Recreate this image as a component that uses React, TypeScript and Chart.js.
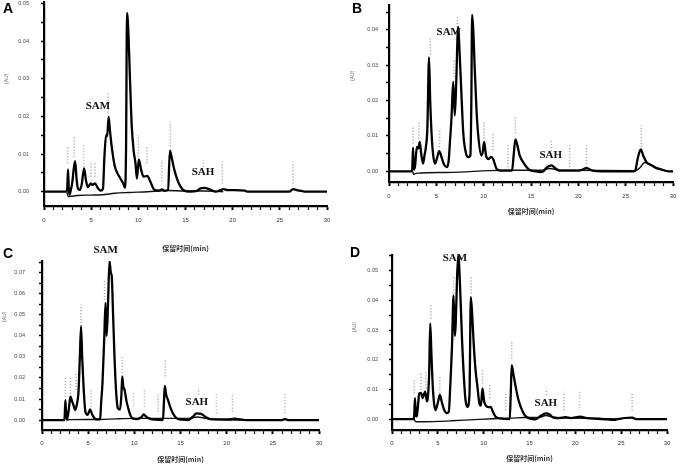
import React, { useEffect, useRef } from 'react';
import { Chart, registerables } from 'chart.js';
Chart.register(...registerables);

type Pt = [number, number];

// ---------- shared axis data ----------
const xTickValues = [0, 1, 2, 3, 4, 5, 6, 7, 8, 9, 10, 11, 12, 13, 14, 15, 16, 17, 18, 19, 20, 21, 22, 23, 24, 25, 26, 27, 28, 29, 30];
const xLabelStep = 5;
const xAxisTitle = '保留时间(min)';
const yAxisTitle = '(AU)';
const peakNames = ['SAM', 'SAH'];

// ---------- Panel A ----------
const aYTicks = [0, 0.005, 0.01, 0.015, 0.02, 0.025, 0.03, 0.035, 0.04, 0.045, 0.05];
const aMain: Pt[] = [[0, 0], [2.3, 0], [2.45, 0.0005], [2.55, 0.0059], [2.62, 0.001], [2.7, -0.0008], [2.85, 0.0005], [3.0, 0.0025], [3.15, 0.006], [3.3, 0.0081], [3.45, 0.0035], [3.6, 0.0008], [3.8, 0.0005], [4.0, 0.002], [4.25, 0.0062], [4.45, 0.003], [4.65, 0.0012], [4.95, 0.0022], [5.15, 0.0018], [5.4, 0.0022], [5.7, 0.001], [6.0, 0.0003], [6.25, 0.0008], [6.4, 0.009], [6.58, 0.015], [6.7, 0.0148], [6.85, 0.0199], [7.0, 0.016], [7.2, 0.0115], [7.5, 0.0068], [7.8, 0.0048], [8.1, 0.0035], [8.4, 0.0022], [8.6, 0.001], [8.7, 0.012], [8.8, 0.0475], [8.95, 0.042], [9.1, 0.031], [9.3, 0.0175], [9.5, 0.011], [9.7, 0.0075], [9.85, 0.0035], [10.05, 0.0086], [10.3, 0.0058], [10.55, 0.004], [10.95, 0.0042], [11.3, 0.0025], [11.7, 0.0005], [12.2, 0.0003], [12.5, 0.0006], [12.8, 0.0002], [13.15, 0.0005], [13.35, 0.0109], [13.5, 0.0095], [13.75, 0.0065], [14.0, 0.0042], [14.3, 0.0022], [14.8, 0.0004], [15.5, 0], [16.2, 0.0002], [16.6, 0.0009], [17.0, 0.001], [17.5, 0.0007], [18.2, 0], [18.7, 0.0004], [19.0, 0.0007], [19.5, 0.0004], [20.2, 0.0004], [21.3, 0.0003], [21.6, 0], [26.0, 0], [26.4, 0.0007], [26.8, 0.0004], [27.3, 0.0002], [27.6, 0], [30, 0]];
const aBlank: Pt[] = [[2.4, 0], [2.6, -0.0013], [2.9, -0.0012], [3.5, -0.001], [5.0, -0.0009], [6.2, -0.0008], [7.5, -0.0004], [9.0, -0.0002], [11.0, 0], [13.0, 0.0003], [15.0, 0.0002], [17.0, 0.0002], [19.0, 0]];
const aMarkT = [2.5, 3.2, 4.2, 5.0, 5.4, 6.8, 10.0, 10.9, 12.5, 13.4, 16.9, 18.9, 26.4];
const aMarkLo = [0.0075, 0.0093, 0.0066, 0.004, 0.004, 0.021, 0.0093, 0.0075, 0.0027, 0.012, 0.0066, 0.0022, 0.0022];
const aMarkHi = [0.012, 0.0146, 0.0124, 0.008, 0.008, 0.026, 0.015, 0.012, 0.0084, 0.0186, 0.0084, 0.008, 0.008];
const aNameT = [5.72, 16.85];
const aNameV = [0.0227, 0.0052];

// ---------- Panel B ----------
const bYTicks = [0, 0.005, 0.01, 0.015, 0.02, 0.025, 0.03, 0.035, 0.04, 0.045];
const bMain: Pt[] = [[0, 0], [2.35, 0], [2.45, 0.0005], [2.54, 0.0067], [2.62, 0.0005], [2.75, 0.0015], [2.95, 0.0069], [3.1, 0.0065], [3.25, 0.0083], [3.4, 0.005], [3.6, 0.0022], [3.75, 0.0045], [3.9, 0.0069], [4.05, 0.012], [4.23, 0.0322], [4.35, 0.02], [4.5, 0.0105], [4.65, 0.005], [4.85, 0.0022], [5.05, 0.0035], [5.3, 0.0057], [5.55, 0.004], [5.8, 0.002], [6.1, 0.0012], [6.3, 0.003], [6.45, 0.0088], [6.6, 0.015], [6.78, 0.0253], [6.95, 0.0158], [7.1, 0.025], [7.3, 0.0408], [7.45, 0.034], [7.6, 0.025], [7.85, 0.0107], [8.1, 0.0055], [8.4, 0.004], [8.6, 0.0045], [8.7, 0.02], [8.78, 0.0442], [8.9, 0.04], [9.05, 0.0295], [9.25, 0.017], [9.45, 0.0095], [9.75, 0.0045], [9.9, 0.0055], [10.05, 0.0083], [10.25, 0.0045], [10.5, 0.0035], [10.8, 0.0041], [11.0, 0.0035], [11.35, 0.0008], [11.8, 0.0002], [12.4, 0.0002], [13.0, 0.0002], [13.15, 0.004], [13.35, 0.009], [13.55, 0.0075], [13.8, 0.0045], [14.2, 0.0025], [14.8, 0.0005], [15.5, 0], [16.0, -0.0002], [16.3, 0], [16.7, 0.0012], [17.15, 0.0017], [17.6, 0.0008], [18.0, 0.0002], [19.0, 0.0002], [20.2, 0.0003], [20.85, 0.0009], [21.5, 0.0002], [22.5, 0], [25.8, 0], [26.0, 0.0002], [26.3, 0.004], [26.6, 0.0062], [26.85, 0.0045], [27.2, 0.0026], [27.7, 0.0018], [28.2, 0.001], [28.8, 0.0005], [29.5, 0], [30, 0]];
const bBlank: Pt[] = [[2.5, 0], [2.6, -0.0008], [3.0, -0.0005], [6.0, -0.0003], [7.5, -0.0002], [10.5, 0.0002], [12.5, 0.0003], [16.0, 0.0003], [17.0, 0.0008], [18.0, 0.0003], [26.0, 0.0002], [26.5, 0.001], [27.0, 0.0025], [27.5, 0.002], [28.3, 0.0009], [29.5, 0]];
const bMarkT = [2.54, 3.17, 4.37, 5.35, 6.87, 7.22, 10.04, 10.99, 12.57, 13.35, 17.15, 19.08, 20.85, 26.65];
const bMarkLo = [0.0078, 0.0092, 0.033, 0.0069, 0.0267, 0.039, 0.0092, 0.006, 0.0012, 0.0107, 0.004, 0.0012, 0.0012, 0.0069];
const bMarkHi = [0.0125, 0.014, 0.038, 0.0116, 0.0314, 0.044, 0.014, 0.0107, 0.0074, 0.0158, 0.0088, 0.0074, 0.0074, 0.013];
const bNameT = [6.31, 17.08];
const bNameV = [0.0394, 0.0045];

// ---------- Panel C ----------
const cYTicks = [0, 0.005, 0.01, 0.015, 0.02, 0.025, 0.03, 0.035, 0.04, 0.045, 0.05, 0.055, 0.06, 0.065, 0.07, 0.075];
const cMain: Pt[] = [[0, 0], [2.35, 0], [2.45, 0.001], [2.53, 0.0095], [2.62, 0.003], [2.72, 0.0005], [2.9, 0.005], [3.08, 0.0111], [3.25, 0.009], [3.4, 0.0072], [3.6, 0.0048], [3.8, 0.008], [3.95, 0.0132], [4.1, 0.03], [4.23, 0.0445], [4.35, 0.03], [4.5, 0.0159], [4.7, 0.004], [4.95, 0.0025], [5.2, 0.0051], [5.45, 0.0025], [5.7, 0.0008], [6.0, 0.0003], [6.3, 0.0005], [6.4, 0.008], [6.55, 0.0175], [6.75, 0.04], [6.88, 0.0556], [7.0, 0.04], [7.15, 0.055], [7.31, 0.0755], [7.45, 0.07], [7.55, 0.0684], [7.7, 0.05], [7.85, 0.0302], [8.05, 0.012], [8.22, 0.0056], [8.45, 0.005], [8.6, 0.012], [8.69, 0.0207], [8.8, 0.016], [8.95, 0.0143], [9.15, 0.009], [9.35, 0.0055], [9.6, 0.002], [9.8, 0.0008], [10.3, 0.0005], [10.8, 0.0015], [11.0, 0.0027], [11.3, 0.0015], [11.8, 0.0005], [12.3, 0.0002], [13.1, 0], [13.2, 0.008], [13.3, 0.0162], [13.45, 0.012], [13.65, 0.0095], [13.9, 0.006], [14.2, 0.003], [14.6, 0.0008], [15.2, 0.0002], [15.8, 0], [16.3, 0.0015], [16.75, 0.0032], [17.25, 0.003], [17.7, 0.0015], [18.2, 0.0005], [19.0, 0.0003], [20.0, 0.0003], [20.9, 0.0007], [21.5, 0.0003], [22.0, 0], [26.0, 0], [26.3, 0.0005], [26.7, 0], [30, 0]];
const cBlank: Pt[] = [[2.6, 0], [3.0, 0.0002], [5.0, 0.0003], [6.2, 0.0003], [8.0, 0.0006], [10.0, 0.0008], [12.0, 0.0008], [14.0, 0.0008], [16.0, 0.0008], [16.8, 0.0015], [17.5, 0.001], [19.0, 0.0003], [22.0, 0]];
const cMarkT = [2.53, 3.08, 3.7, 4.23, 5.32, 6.77, 8.69, 9.92, 11.1, 12.56, 13.35, 16.97, 18.89, 20.63, 26.31];
const cMarkLo = [0.011, 0.011, 0.0143, 0.0445, 0.0064, 0.057, 0.0223, 0.0064, 0.0064, 0.004, 0.0207, 0.012, 0.0032, 0.004, 0.0032];
const cMarkHi = [0.02, 0.0207, 0.0223, 0.0548, 0.0143, 0.0668, 0.0302, 0.0127, 0.0151, 0.0127, 0.0286, 0.0151, 0.0127, 0.0127, 0.0127];
const cNameT = [6.9, 16.77];
const cNameV = [0.0807, 0.0085];

// ---------- Panel D ----------
const dYTicks = [0, 0.005, 0.01, 0.015, 0.02, 0.025, 0.03, 0.035, 0.04, 0.045, 0.05, 0.055];
const dMain: Pt[] = [[0, 0], [2.3, 0], [2.42, 0.001], [2.5, 0.007], [2.6, 0.0015], [2.7, 0.0008], [2.85, 0.005], [2.97, 0.0086], [3.16, 0.0088], [3.34, 0.007], [3.5, 0.0085], [3.63, 0.0092], [3.8, 0.006], [3.9, 0.007], [4.05, 0.015], [4.17, 0.0322], [4.3, 0.022], [4.43, 0.012], [4.6, 0.005], [4.75, 0.003], [5.0, 0.0055], [5.22, 0.0081], [5.45, 0.0055], [5.7, 0.003], [6.0, 0.002], [6.2, 0.0025], [6.35, 0.0109], [6.55, 0.025], [6.71, 0.0417], [6.85, 0.028], [6.95, 0.032], [7.1, 0.048], [7.25, 0.0557], [7.38, 0.048], [7.51, 0.0378], [7.65, 0.026], [7.76, 0.0187], [8.0, 0.007], [8.23, 0.0041], [8.45, 0.008], [8.6, 0.0411], [8.75, 0.035], [8.89, 0.0266], [9.1, 0.017], [9.32, 0.0109], [9.55, 0.005], [9.7, 0.0045], [9.87, 0.0103], [10.05, 0.006], [10.25, 0.0045], [10.5, 0.004], [10.77, 0.0041], [11.0, 0.0025], [11.3, 0.0008], [11.8, 0.0002], [12.84, 0], [12.95, 0.008], [13.06, 0.0182], [13.25, 0.015], [13.49, 0.0109], [13.75, 0.007], [14.04, 0.0041], [14.5, 0.0012], [15.0, 0.0002], [15.67, -0.0001], [16.2, 0.001], [16.76, 0.0019], [17.2, 0.0015], [17.6, 0.0005], [18.3, 0.0003], [18.93, 0.0006], [19.5, 0.0003], [20.57, 0.0008], [21.1, 0.0004], [21.8, 0.0002], [23.0, 0], [24.3, -0.0003], [24.6, 0], [26.2, 0.0005], [26.6, 0], [30, 0]];
const dBlank: Pt[] = [[2.4, 0], [2.6, -0.0009], [3.5, -0.0009], [5.0, -0.0008], [6.5, -0.0006], [9.0, -0.0002], [11.0, 0.0001], [13.0, 0.0003], [14.5, 0.0005], [16.0, 0.0005], [16.8, 0.0012], [17.5, 0.0007], [19.0, 0.0004], [22.0, 0.0002], [25.0, 0]];
const dMarkT = [2.43, 3.16, 3.7, 4.24, 5.22, 6.71, 8.63, 9.87, 10.66, 12.4, 13.06, 16.83, 18.75, 20.46, 26.2];
const dMarkLo = [0.0086, 0.0098, 0.0103, 0.0339, 0.0086, 0.0423, 0.0423, 0.012, 0.007, 0.003, 0.0204, 0.0081, 0.003, 0.0036, 0.003];
const dMarkHi = [0.0137, 0.0154, 0.0159, 0.0389, 0.0142, 0.0479, 0.0479, 0.017, 0.012, 0.0092, 0.0266, 0.0103, 0.0092, 0.0098, 0.0086];
const dNameT = [6.87, 16.78];
const dNameV = [0.0543, 0.0054];

// ---------- layout (positions / sizes only) ----------
type PanelCfg = {
  letter: string; letterLeft: number; letterTop: number;
  left: number; top: number; w: number; h: number;
  pad: { left: number; right: number; top: number; bottom: number };
  yW: number; xH: number; yMin: number; yMax: number; yLabelPad: number; xLabelPad: number;
  yTitleX: number; yTitleV: number;
  yTicks: number[]; main: Pt[]; blank: Pt[];
  markT: number[]; markLo: number[]; markHi: number[];
  nameT: number[]; nameV: number[];
};

const panels: PanelCfg[] = [
  { letter: 'A', letterLeft: 3, letterTop: 1, left: 0, top: 0, w: 340, h: 256,
    pad: { left: 0, right: 13, top: 2, bottom: 3 }, yW: 44, xH: 47, yMin: -0.0038, yMax: 0.0504, yLabelPad: 12, xLabelPad: 7,
    yTitleX: 7, yTitleV: 0.03, yTicks: aYTicks, main: aMain, blank: aBlank, markT: aMarkT, markLo: aMarkLo, markHi: aMarkHi, nameT: aNameT, nameV: aNameV },
  { letter: 'B', letterLeft: 352, letterTop: 1, left: 340, top: 0, w: 340, h: 230,
    pad: { left: 0, right: 7, top: 5, bottom: 14 }, yW: 49, xH: 34, yMin: -0.003, yMax: 0.047, yLabelPad: 8, xLabelPad: 7,
    yTitleX: 13, yTitleV: 0.027, yTicks: bYTicks, main: bMain, blank: bBlank, markT: bMarkT, markLo: bMarkLo, markHi: bMarkHi, nameT: bNameT, nameV: bNameV },
  { letter: 'C', letterLeft: 3, letterTop: 246, left: 0, top: 230, w: 340, h: 237,
    pad: { left: 0, right: 21, top: 31, bottom: 3 }, yW: 42, xH: 34, yMin: -0.0047, yMax: 0.0755, yLabelPad: 14, xLabelPad: 6,
    yTitleX: 5, yTitleV: 0.049, yTicks: cYTicks, main: cMain, blank: cBlank, markT: cMarkT, markLo: cMarkLo, markHi: cMarkHi, nameT: cNameT, nameV: cNameV },
  { letter: 'D', letterLeft: 350, letterTop: 245, left: 340, top: 230, w: 340, h: 237,
    pad: { left: 0, right: 13, top: 25, bottom: 4 }, yW: 52, xH: 33, yMin: -0.0037, yMax: 0.0553, yLabelPad: 11, xLabelPad: 6,
    yTitleX: 15, yTitleV: 0.031, yTicks: dYTicks, main: dMain, blank: dBlank, markT: dMarkT, markLo: dMarkLo, markHi: dMarkHi, nameT: dNameT, nameV: dNameV },
];

const toXY = (pts: Pt[]) => pts.map(([x, y]) => ({ x, y }));
const markerData = (t: number[], lo: number[], hi: number[]) =>
  t.flatMap((tt, i) => [{ x: tt, y: lo[i] as number | null }, { x: tt, y: hi[i] as number | null }, { x: tt, y: null as number | null }]);

const annotPlugin = {
  id: 'annot',
  afterDraw(chart: any, _args: any, opts: any) {
    const { ctx } = chart;
    const xs = chart.scales.x;
    const ys = chart.scales.y;
    ctx.save();
    ctx.fillStyle = '#111';
    ctx.font = 'bold 11px "Liberation Serif", "DejaVu Serif", serif';
    ctx.textAlign = 'center';
    ctx.textBaseline = 'middle';
    (opts.names as string[]).forEach((n, i) => {
      ctx.fillText(n, xs.getPixelForValue(opts.t[i]), ys.getPixelForValue(opts.v[i]));
    });
    ctx.translate(opts.yTitleX, ys.getPixelForValue(opts.yTitleV));
    ctx.rotate(-Math.PI / 2);
    ctx.fillStyle = '#666';
    ctx.font = '5px "Liberation Sans", sans-serif';
    ctx.fillText(yAxisTitle, 0, 0);
    ctx.restore();
  },
};

function Panel({ cfg }: { cfg: PanelCfg }) {
  const ref = useRef<HTMLCanvasElement>(null);
  useEffect(() => {
    if (!ref.current) return;
    const isMajorY = (v: number) => Math.abs(v * 100 - Math.round(v * 100)) < 1e-6;
    const chart = new Chart(ref.current, {
      type: 'line',
      data: {
        datasets: [
          { data: toXY(cfg.main), borderColor: '#000', borderWidth: 2.3, pointRadius: 0, cubicInterpolationMode: 'monotone', order: 1 },
          { data: toXY(cfg.blank), borderColor: '#111', borderWidth: 1.4, pointRadius: 0, cubicInterpolationMode: 'monotone', order: 2 },
          { data: markerData(cfg.markT, cfg.markLo, cfg.markHi), borderColor: '#b3b3b3', borderWidth: 1.6, borderDash: [1.2, 1.8], pointRadius: 0, spanGaps: false, tension: 0, order: 3 },
        ] as any,
      },
      options: {
        responsive: false,
        animation: false,
        events: [],
        layout: { padding: cfg.pad },
        plugins: {
          legend: { display: false },
          tooltip: { enabled: false },
          annot: { names: peakNames, t: cfg.nameT, v: cfg.nameV, yTitleX: cfg.yTitleX, yTitleV: cfg.yTitleV },
        } as any,
        scales: {
          x: {
            type: 'linear', min: 0, max: 30,
            afterBuildTicks: (s: any) => { s.ticks = xTickValues.map((v) => ({ value: v })); },
            afterFit: (s: any) => { s.height = cfg.xH; s.paddingLeft = 0; s.paddingRight = 0; },
            ticks: {
              autoSkip: false, maxRotation: 0, padding: cfg.xLabelPad, color: '#333',
              font: { size: 6, family: '"Liberation Sans", sans-serif' },
              callback: (v: any) => (Number(v) % xLabelStep === 0 ? String(v) : ''),
            },
            grid: {
              drawOnChartArea: false, drawTicks: true, tickLength: 4, tickColor: '#000',
              tickWidth: (c: any) => (c.tick && c.tick.value % xLabelStep === 0 ? 2 : 1.2),
            },
            border: { display: true, color: '#000', width: 2.2 },
            title: {
              display: true, text: xAxisTitle, color: '#333', padding: { top: 0, bottom: 0 },
              font: { size: 7, weight: 'bold', family: '"Noto Sans CJK SC", sans-serif', lineHeight: 1.2 },
            },
          },
          y: {
            type: 'linear', min: cfg.yMin, max: cfg.yMax,
            afterBuildTicks: (s: any) => { s.ticks = cfg.yTicks.map((v) => ({ value: v })); },
            afterFit: (s: any) => { s.width = cfg.yW; s.paddingTop = 0; s.paddingBottom = 0; },
            ticks: {
              autoSkip: false, padding: cfg.yLabelPad, color: '#444',
              font: { size: 5.5, family: '"Liberation Sans", sans-serif' },
              callback: (v: any) => (isMajorY(Number(v)) ? Number(v).toFixed(2) : ''),
            },
            grid: { drawOnChartArea: false, drawTicks: true, tickLength: 3, tickColor: '#000', tickWidth: 1.5 },
            border: { display: true, color: '#000', width: 2.2 },
          },
        },
      } as any,
      plugins: [annotPlugin],
    });
    return () => chart.destroy();
  }, [cfg]);
  return (
    <canvas ref={ref} width={cfg.w} height={cfg.h}
      style={{ position: 'absolute', left: cfg.left, top: cfg.top, width: cfg.w, height: cfg.h }} />
  );
}

export default function App() {
  return (
    <div style={{ position: 'absolute', left: 0, top: 0, width: 680, height: 467, background: '#fff', overflow: 'hidden' }}>
      {panels.map((p) => (
        <Panel key={p.letter} cfg={p} />
      ))}
      {panels.map((p) => (
        <div key={'l' + p.letter} style={{
          position: 'absolute', left: p.letterLeft, top: p.letterTop, fontFamily: '"Liberation Sans", Arial, sans-serif',
          fontWeight: 'bold', fontSize: 14, lineHeight: '14px', color: '#000',
        }}>{p.letter}</div>
      ))}
    </div>
  );
}
